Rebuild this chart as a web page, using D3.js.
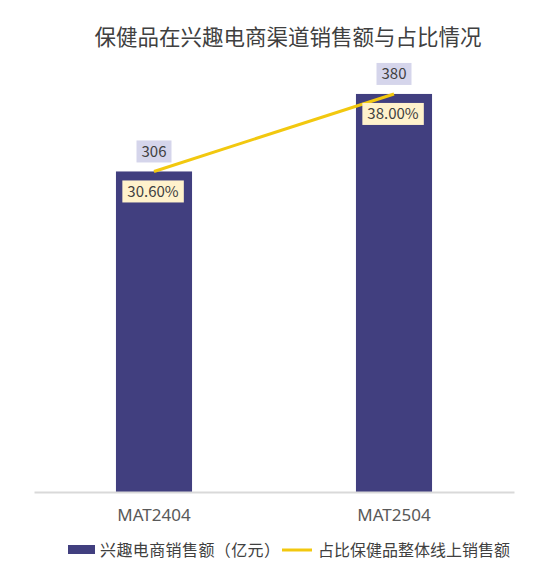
<!DOCTYPE html>
<html>
<head>
<meta charset="utf-8">
<script src="https://cdn.jsdelivr.net/npm/d3@7"></script>
<style>
  body { margin: 0; background: #fff; }
  svg text { font-family: "Noto Sans CJK SC", "Microsoft YaHei", sans-serif; }
</style>
</head>
<body>
<div id="chart"></div>
<script>
// data
var categories = ["MAT2404", "MAT2504"];
var sales = [306, 380];          // 兴趣电商销售额（亿元）
var share = [30.6, 38.0];        // 占比保健品整体线上销售额 (%)
var salesLabels = ["306", "380"];
var shareLabels = ["30.60%", "38.00%"];

var width = 543, height = 580;
var x0 = 34, x1 = 514, baseY = 492, topY = 73;

var svg = d3.select('#chart').append('svg')
    .attr('width', width)
    .attr('height', height);

svg.append('text')
    .attr('x', 288)
    .attr('y', 45)
    .attr('text-anchor', 'middle')
    .style('font-size', '21.5px')
    .style('fill', '#404040')
    .text('保健品在兴趣电商渠道销售额与占比情况');

var x = d3.scaleBand()
    .domain(categories)
    .range([x0, x1])
    .paddingInner(0.683)
    .paddingOuter(0.3415);

var y = d3.scaleLinear().domain([0, 400]).range([baseY, topY]);
var y2 = d3.scaleLinear().domain([0, 40]).range([baseY, topY]);

//bars
svg.selectAll('.bar')
    .data(sales)
    .enter().append('rect')
    .attr('class', 'bar')
    .attr('x', function (d, i) { return x(categories[i]); })
    .attr('y', function (d) { return y(d); })
    .attr('width', x.bandwidth())
    .attr('height', function (d) { return baseY - y(d); })
    .style('fill', '#413F7F');

//x axis
var xAxis = svg.append('g')
    .attr('transform', 'translate(0,' + baseY + ')')
    .call(d3.axisBottom(x).tickSize(0).tickPadding(17));
xAxis.select('.domain').attr('stroke', '#D9D9D9').attr('stroke-width', 2);
xAxis.selectAll('text')
    .style('font-family', '"Noto Sans", sans-serif')
    .style('font-size', '17px')
    .style('fill', '#595959')
    .attr('dy', '0.71em');

//share line
var line = d3.line()
    .x(function (d, i) { return x(categories[i]) + x.bandwidth() / 2; })
    .y(function (d) { return y2(d); });

svg.append('path')
    .datum(share)
    .attr('d', line)
    .style('fill', 'none')
    .style('stroke', '#F2C80F')
    .style('stroke-width', 3);

// label boxes: text with a coloured rect behind it
function labelBox (cx, cy, txt, bg) {
    var g = svg.append('g');
    var t = g.append('text')
        .attr('x', cx)
        .attr('y', cy)
        .attr('dy', '0.35em')
        .attr('text-anchor', 'middle')
        .style('font-size', '15px')
        .style('fill', '#404040')
        .text(txt);
    var b = t.node().getBBox();
    g.insert('rect', 'text')
        .attr('x', b.x - 5)
        .attr('y', cy - 11)
        .attr('width', b.width + 10)
        .attr('height', 22)
        .style('fill', bg);
}

sales.forEach(function (d, i) {
    var cx = x(categories[i]) + x.bandwidth() / 2;
    labelBox(cx, y(d) - 20, salesLabels[i], '#D5D5EB');
});
share.forEach(function (d, i) {
    var cx = x(categories[i]) + x.bandwidth() / 2 - 1;
    labelBox(cx, y2(d) + 20, shareLabels[i], '#FFF2CC');
});

//legend
var legend = svg.append('g');
legend.append('rect')
    .attr('x', 68).attr('y', 545)
    .attr('width', 27).attr('height', 9)
    .style('fill', '#413F7F');
legend.append('text')
    .attr('x', 100).attr('y', 550)
    .attr('dy', '0.35em')
    .style('font-size', '16px')
    .style('letter-spacing', '0.4px')
    .style('fill', '#404040')
    .text('兴趣电商销售额（亿元）');
legend.append('line')
    .attr('x1', 282).attr('x2', 312)
    .attr('y1', 550).attr('y2', 550)
    .style('stroke', '#F2C80F')
    .style('stroke-width', 3);
legend.append('text')
    .attr('x', 318).attr('y', 550)
    .attr('dy', '0.35em')
    .style('font-size', '16px')
    .style('fill', '#404040')
    .text('占比保健品整体线上销售额');
</script>
</body>
</html>
